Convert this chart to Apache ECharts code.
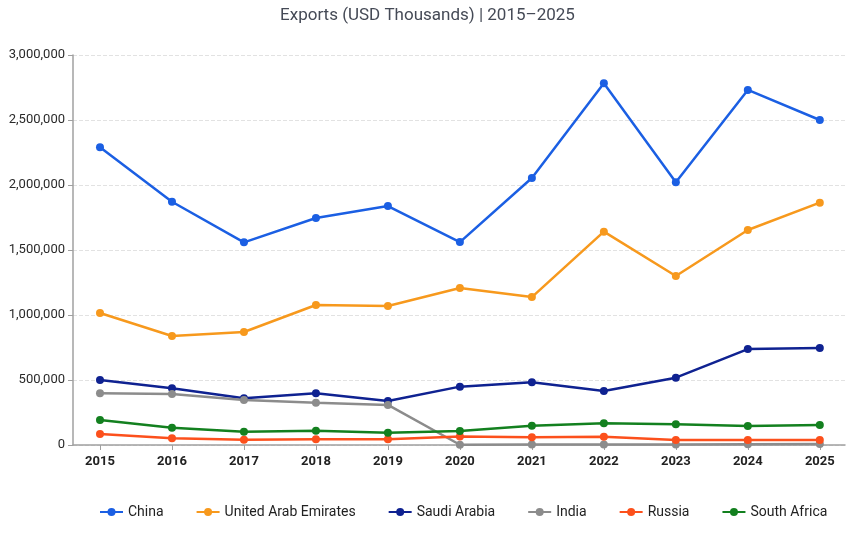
<!DOCTYPE html>
<html>
<head>
<meta charset="utf-8">
<script src="https://cdn.jsdelivr.net/npm/echarts@6/dist/echarts.min.js"></script>
<style>
  html, body { margin: 0; padding: 0; background: #fff; }
  #chart { width: 855px; height: 535px; }
</style>
</head>
<body>
<div id="chart"></div>
<script>
var years = [2015, 2016, 2017, 2018, 2019, 2020, 2021, 2022, 2023, 2024, 2025];

var china = [2290000, 1871000, 1559000, 1746000, 1838000, 1561000, 2054000, 2782000, 2021000, 2731000, 2500000];
var uae = [1015000, 838000, 869000, 1077000, 1069000, 1208000, 1138000, 1641000, 1300000, 1654000, 1864000];
var saudi = [500000, 436000, 359000, 398000, 338000, 449000, 482000, 415000, 518000, 738000, 746000];
var india = [398000, 392000, 346000, 325000, 308000, 2000, 3000, 3000, 4000, 6000, 8000];
var russia = [85000, 51000, 40000, 44000, 44000, 65000, 59000, 64000, 38000, 38000, 38000];
var southAfrica = [192000, 133000, 102000, 110000, 95000, 108000, 148000, 167000, 159000, 146000, 154000];

var seriesNames = ["China", "United Arab Emirates", "Saudi Arabia", "India", "Russia", "South Africa"];
var seriesColors = ["#1b5fe3", "#f7991d", "#0f2291", "#8c8c8c", "#fc501c", "#13801f"];
var seriesData = [china, uae, saudi, india, russia, southAfrica];

var chart = echarts.init(document.getElementById("chart"));

function pairs(vals) {
  var out = [];
  for (var i = 0; i < years.length; i++) {
    out.push([years[i], vals[i]]);
  }
  return out;
}

var series = [];
for (var s = 0; s < seriesNames.length; s++) {
  series.push({
    name: seriesNames[s],
    type: "line",
    data: pairs(seriesData[s]),
    symbol: "circle",
    symbolSize: 8,
    lineStyle: { width: 2.5, color: seriesColors[s] },
    itemStyle: { color: seriesColors[s] },
  });
}

chart.setOption({
  animation: false,
  textStyle: { fontFamily: "Roboto" },
  title: {
    text: "Exports (USD Thousands) | 2015–2025",
    left: "center",
    top: 2,
    textStyle: { fontSize: 17, fontWeight: "normal", color: "#454a56", fontFamily: "Roboto" },
  },
  legend: {
    data: seriesNames,
    left: 94,
    top: 500,
    itemGap: 32,
    itemWidth: 23,
    itemHeight: 10,
    textStyle: { fontSize: 14, color: "#222" },
  },
  grid: { left: 73, right: 10, top: 55, bottom: 90 },
  xAxis: {
    type: "value",
    min: 2014.625,
    max: 2025.35,
    splitLine: { show: false },
    axisLine: { show: true, lineStyle: { color: "#a0a0a0", width: 1.5 } },
    axisTick: { show: true, customValues: years, length: 5, lineStyle: { color: "#a0a0a0" } },
    axisLabel: {
      customValues: years,
      formatter: function (v) { return String(v); },
      fontSize: 13,
      fontWeight: "bold",
      color: "#222",
      margin: 10,
    },
  },
  yAxis: {
    type: "value",
    min: 0,
    max: 3000000,
    interval: 500000,
    axisLine: { show: true, lineStyle: { color: "#a0a0a0", width: 1.5 } },
    axisTick: { show: true, length: 5, lineStyle: { color: "#a0a0a0" } },
    axisLabel: {
      fontSize: 13,
      color: "#2a2a2a",
      margin: 8,
      formatter: function (v) { return v.toLocaleString("en-US"); },
    },
    splitLine: { lineStyle: { type: "dashed", color: "#e2e2e2" } },
  },
  series: series,
});
</script>
</body>
</html>
